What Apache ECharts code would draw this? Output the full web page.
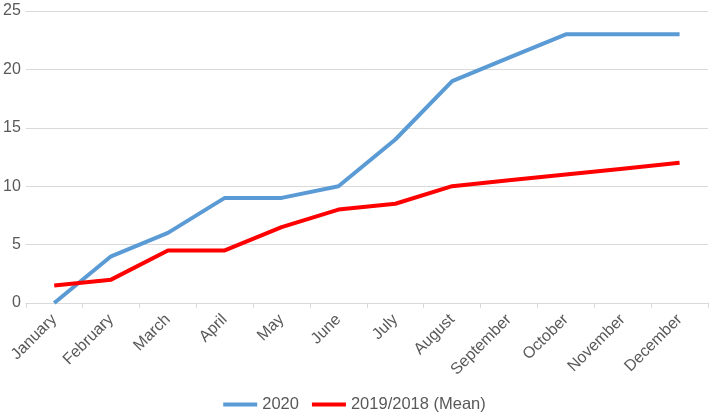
<!DOCTYPE html>
<html><head><meta charset="utf-8">
<script src="https://cdn.jsdelivr.net/npm/echarts@6/dist/echarts.min.js"></script>
<style>html,body{margin:0;padding:0;background:#fff}#c{width:709px;height:414px}</style>
</head><body><div id="c"></div>
<script>
const months = ["January","February","March","April","May","June","July","August","September","October","November","December"];
const series2020 = [0,4,6,9,9,10,14,19,21,23,23,23];
const seriesMean = [1.5,2,4.5,4.5,6.5,8,8.5,10,10.5,11,11.5,12];
const yTicks = {min:0,max:25,interval:5};
const chart = echarts.init(document.getElementById('c'));
chart.setOption({
  animation:false,
  grid:{left:25,right:1,top:11,bottom:111,containLabel:false},
  legend:{bottom:-4,left:'center',itemWidth:34,itemHeight:4,itemGap:13,icon:'rect',
    textStyle:{fontFamily:'Liberation Sans, Arial',fontSize:16.5,color:'#595959'},
    data:['2020','2019/2018 (Mean)']},
  xAxis:{type:'category',data:months,boundaryGap:true,
    axisLine:{lineStyle:{color:'#d9d9d9',width:1}},
    axisTick:{show:true,alignWithLabel:false,length:5,lineStyle:{color:'#d9d9d9'}},
    axisLabel:{rotate:45,fontFamily:'Liberation Sans, Arial',fontSize:16,color:'#595959',margin:14}},
  yAxis:{type:'value',min:yTicks.min,max:yTicks.max,interval:yTicks.interval,
    axisLine:{show:false},axisTick:{show:false},
    splitLine:{lineStyle:{color:'#d9d9d9',width:1}},
    axisLabel:{fontFamily:'Liberation Sans, Arial',fontSize:16,color:'#595959',margin:5}},
  series:[
    {name:'2020',type:'line',data:series2020,symbol:'none',lineStyle:{color:'#5b9bd5',width:4},itemStyle:{color:'#5b9bd5'}},
    {name:'2019/2018 (Mean)',type:'line',data:seriesMean,symbol:'none',lineStyle:{color:'#ff0000',width:4},itemStyle:{color:'#ff0000'}}
  ]
});
</script></body></html>
